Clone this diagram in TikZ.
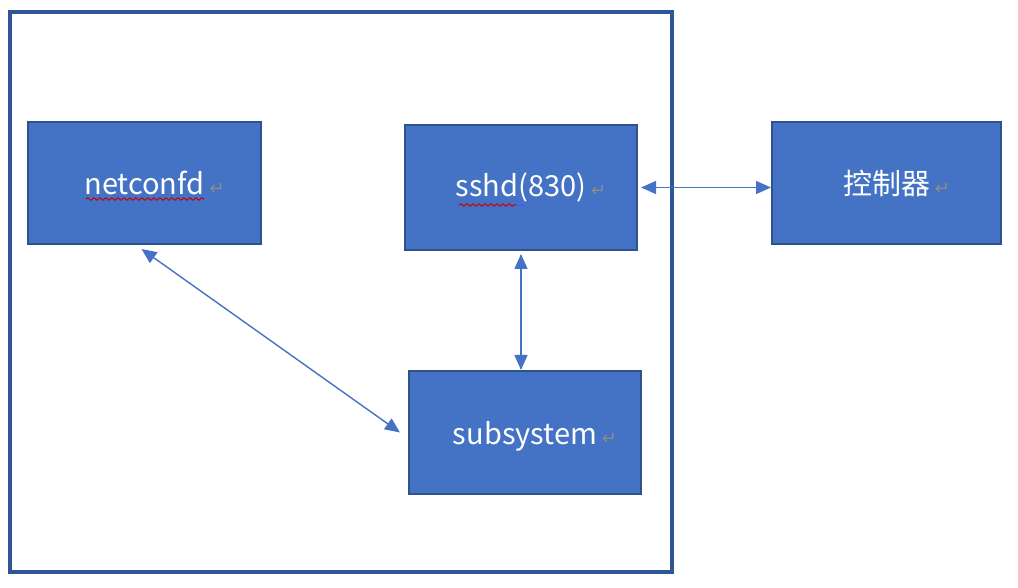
\documentclass[tikz,border=0pt]{standalone}
\usepackage{fontspec}
\setmainfont{Noto Sans CJK SC}
\newfontfamily\markfont{DejaVu Sans}
\usetikzlibrary{arrows.meta,decorations.pathmorphing}
\definecolor{boxfill}{HTML}{4472C4}
\definecolor{boxline}{HTML}{2F528F}
\definecolor{frameline}{HTML}{2F5597}
\definecolor{markgray}{HTML}{8C8C8C}
\newcommand{\retmark}{\rlap{\,\markfont\fontsize{9}{9}\selectfont\color{markgray}↵}}
\tikzset{
  blockbox/.style={draw=boxline,line width=1pt,fill=boxfill,text=white,
    font=\fontsize{14.5}{17}\selectfont,inner sep=0pt},
  link/.style={boxfill,line width=0.7pt,{Triangle[length=7.5pt,width=6.5pt]}-{Triangle[length=7.5pt,width=6.5pt]}},
  spellwave/.style={red!80!black,line width=0.5pt,decorate,
    decoration={snake,amplitude=0.6pt,segment length=3pt}}
}
\begin{document}
\begin{tikzpicture}[x=0.5pt,y=-0.5pt]
  \useasboundingbox (0,0) rectangle (1018,588);
  \draw[frameline,line width=1.6pt] (10,12) rectangle (672,572);
  \node[blockbox,minimum width=116.5pt,minimum height=61pt] (netconfd) at (144.5,183) {netconfd\retmark};
  \node[blockbox,minimum width=116pt,minimum height=62.5pt] (sshd) at (521,187.5) {sshd(830)\retmark};
  \node[blockbox,minimum width=114.5pt,minimum height=61pt] (ctrl) at (886.5,183) {控制器\retmark};
  \node[blockbox,minimum width=116pt,minimum height=61.5pt,text depth=-2pt] (subsystem) at (525,432.5) {subsystem\retmark};
  % spell-check marks
  \draw[spellwave] (86,199) -- (204,199);
  \draw[spellwave] (459,205) -- (516,205);
  \draw[blue!70,line width=0.6pt] (516,205.5) -- (525,205.5);
  % connectors
  \draw[link] ([shift={(-3,4)}]netconfd.south) -- ([xshift=-4pt]subsystem.west);
  \draw[link] ([yshift=-1.5pt]sshd.south) -- (sshd.south |- subsystem.north);
  \draw[link] ([xshift=1.5pt]sshd.east) -- (sshd.east -| ctrl.west);
\end{tikzpicture}
\end{document}
